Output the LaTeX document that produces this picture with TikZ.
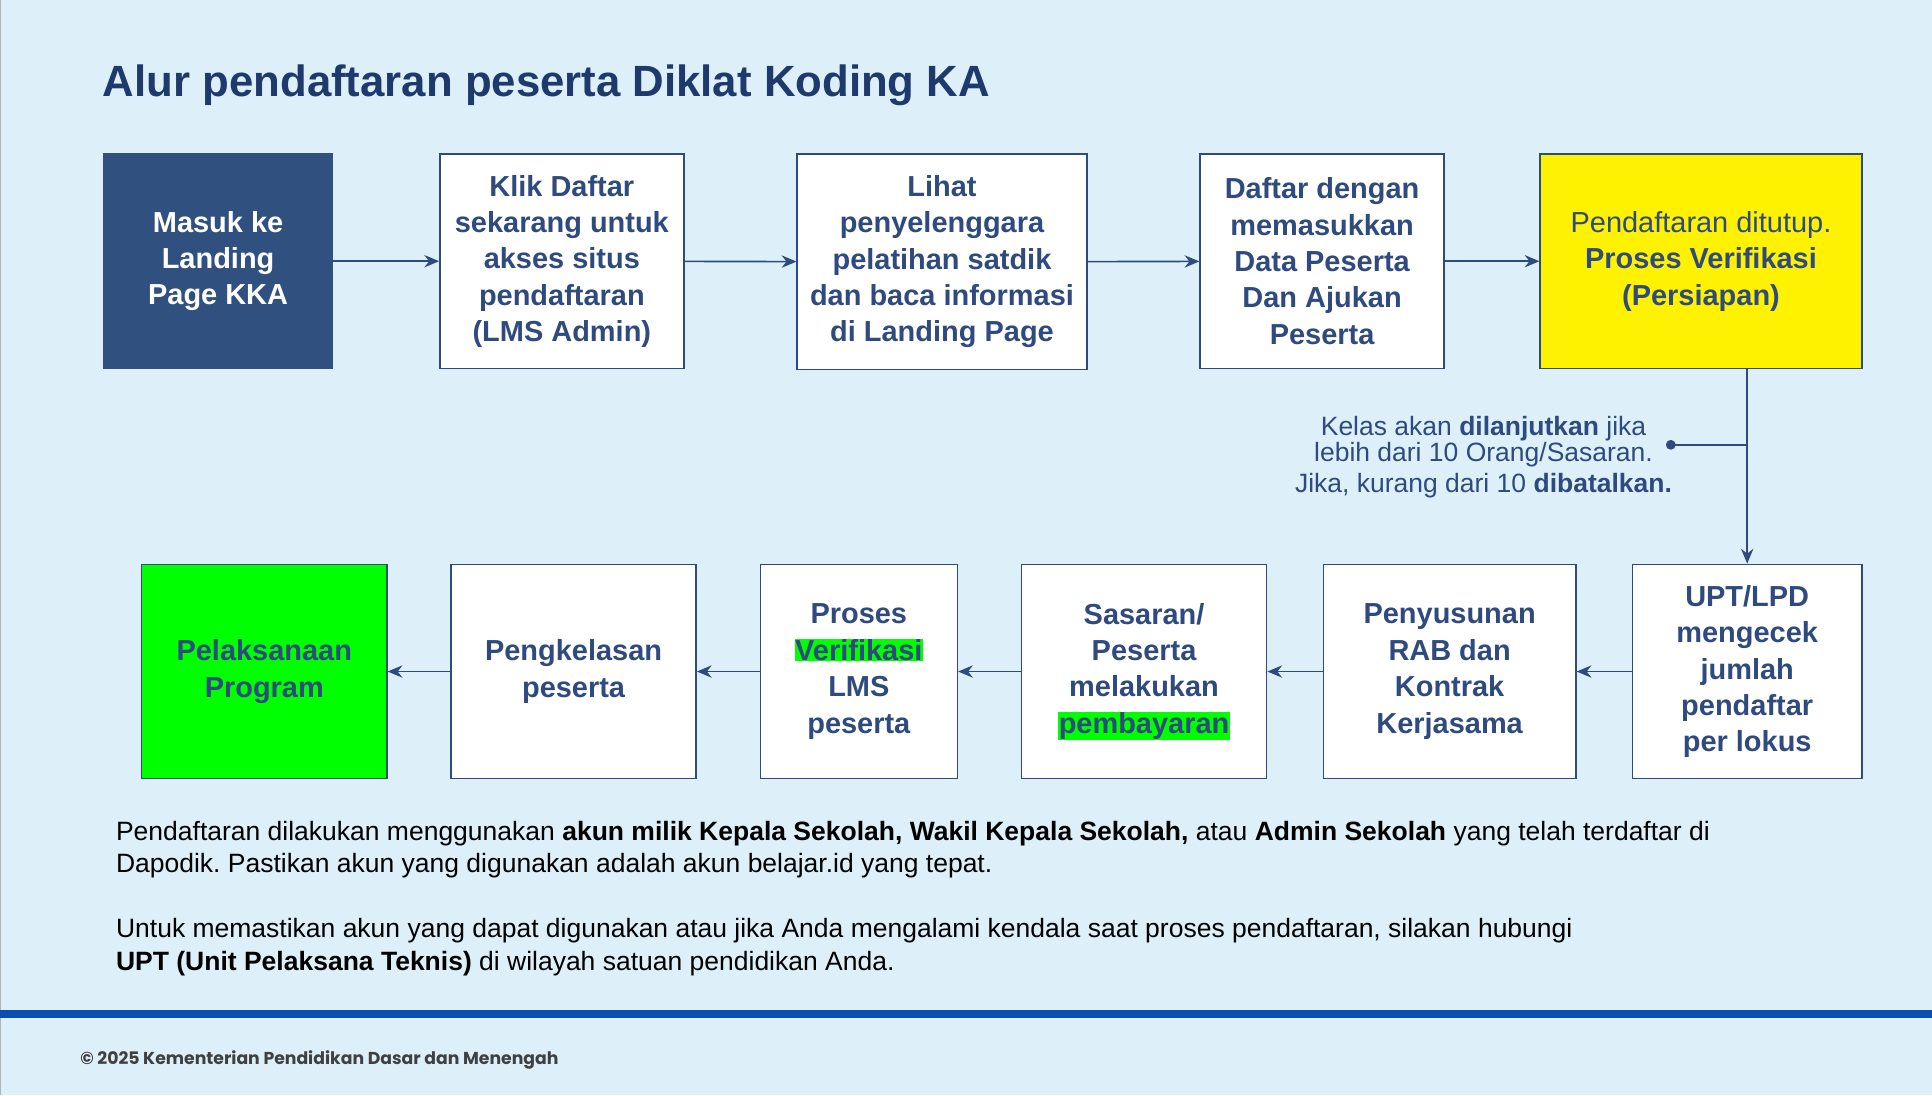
\documentclass[tikz,border=0pt]{standalone}
\usepackage{fontspec}
\setmainfont{Liberation Sans}
\newfontfamily\footfont{Poppins}
\usetikzlibrary{arrows.meta}
\frenchspacing
\definecolor{bg}{HTML}{DDF0FA}
\definecolor{navy}{HTML}{2E4A7E}
\definecolor{dark}{HTML}{30517F}
\definecolor{ttl}{HTML}{1E3A6D}
\definecolor{hl}{HTML}{00FF00}
\definecolor{bar}{HTML}{0A4DB3}
\newcommand{\hlt}[1]{{\setlength{\fboxsep}{0.5pt}\colorbox{hl}{#1}}}
\tikzset{
  x=1pt,y=-1pt,
  bx/.style={draw=navy,line width=1.2pt,fill=white,text=navy,font=\fontsize{23.5}{29.5}\selectfont\bfseries,align=center,inner sep=2pt},
  arr/.style={draw=navy,line width=1.3pt,-{Stealth[length=12pt,width=10pt]}},
}
\begin{document}
\begin{tikzpicture}
\useasboundingbox (0,0) rectangle (1568,889);
\fill[bg] (0,0) rectangle (1568,889);
\draw[gray!60,line width=1pt] (0.5,0) -- (0.5,889);
\node[anchor=base west,text=ttl,font=\fontsize{35.5}{40}\selectfont\bfseries] (title) at (80,78) {Alur pendaftaran peserta Diklat Koding KA};
% row 1
\node[bx,fill=dark,draw=dark,text=white,minimum width=186pt,minimum height=174pt] (a) at (177,212) {Masuk ke\\Landing\\Page KKA};
\node[bx,minimum width=198pt,minimum height=174pt] (b) at (456,212) {Klik Daftar\\sekarang untuk\\akses situs\\pendaftaran\\(LMS Admin)};
\node[bx,minimum width=235pt,minimum height=175pt] (c) at (764.5,212.5) {Lihat\\penyelenggara\\pelatihan satdik\\dan baca informasi\\di Landing Page};
\node[bx,minimum width=198pt,minimum height=174pt] (d) at (1073,212) {Daftar dengan\\memasukkan\\Data Peserta\\Dan Ajukan\\Peserta};
\node[bx,fill=yellow,minimum width=261pt,minimum height=174pt] (e) at (1380.5,212) {\mdseries Pendaftaran ditutup.\\Proses Verifikasi\\(Persiapan)};
\draw[arr] (a) -- (b);
\draw[arr] (b) -- (c);
\draw[arr] (c) -- (d);
\draw[arr] (d) -- (e);
% row 2
\node[bx,minimum width=186pt,minimum height=174pt] (f) at (1418,545) {UPT/LPD\\mengecek\\jumlah\\pendaftar\\per lokus};
\node[bx,minimum width=205pt,minimum height=174pt] (g) at (1176.5,545) {Penyusunan\\RAB dan\\Kontrak\\Kerjasama};
\node[bx,minimum width=199pt,minimum height=174pt] (h) at (928.5,545) {Sasaran/\\Peserta\\melakukan\\\hlt{pembayaran}};
\node[bx,minimum width=160pt,minimum height=174pt] (i) at (697,545) {Proses\\\hlt{Verifikasi}\\LMS\\peserta};
\node[bx,minimum width=199pt,minimum height=174pt] (j) at (465.5,545) {Pengkelasan\\peserta};
\node[bx,fill=hl,minimum width=199pt,minimum height=174pt] (k) at (214.5,545) {Pelaksanaan\\Program};
\draw[arr] (f) -- (g);
\draw[arr] (g) -- (h);
\draw[arr] (h) -- (i);
\draw[arr] (i) -- (j);
\draw[arr] (j) -- (k);
% verification branch
\coordinate (br) at (1418,361);
\coordinate (dot) at (1356,361);
\draw[arr] (e.south -| f.north) -- (f.north);
\draw[navy,line width=1.3pt] (br) -- (dot);
\fill[navy] (dot) circle (4pt);
\node[anchor=north,align=center,text=navy,font=\fontsize{21.5}{21}\selectfont,inner sep=0pt] (note) at (1204,338) {Kelas akan \textbf{dilanjutkan} jika\\lebih dari 10 Orang/Sasaran.\\[4pt]Jika, kurang dari 10 \textbf{dibatalkan.}};
% paragraph
\node[anchor=north west,align=left,font=\fontsize{21.5}{26.5}\selectfont,inner sep=0pt] (para) at (94,666) {Pendaftaran dilakukan menggunakan \textbf{akun milik Kepala Sekolah, Wakil Kepala Sekolah,} atau \textbf{Admin Sekolah} yang telah terdaftar di\\Dapodik. Pastikan akun yang digunakan adalah akun belajar.id yang tepat.\\[26pt]Untuk memastikan akun yang dapat digunakan atau jika Anda mengalami kendala saat proses pendaftaran, silakan hubungi\\\textbf{UPT (Unit Pelaksana Teknis)} di wilayah satuan pendidikan Anda.};
\fill[bar] (0,820) rectangle (1568,826);
\node[anchor=base west,text=black!75,font=\footfont\fontsize{14}{16}\selectfont\bfseries,inner sep=0pt] (foot) at (65,864) {© 2025 Kementerian Pendidikan Dasar dan Menengah};
\end{tikzpicture}
\end{document}
